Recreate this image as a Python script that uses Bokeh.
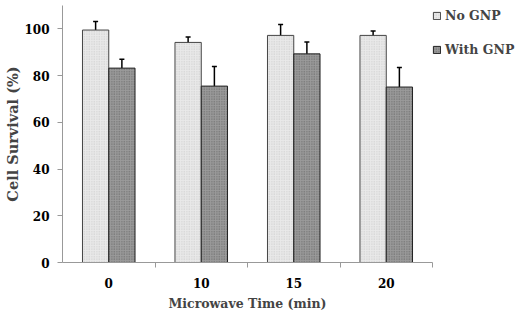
import numpy as np
from bokeh.plotting import figure
from bokeh.models import (ColumnDataSource, Range1d, FixedTicker, Whisker,
                          Legend, LegendItem)
from bokeh.embed import file_html
from bokeh.resources import INLINE

categories = ["0", "10", "15", "20"]
no_gnp = [99.5, 94.2, 97.2, 97.2]
no_gnp_err = [3.6, 2.3, 4.7, 1.9]
with_gnp = [83.2, 75.5, 89.3, 75.1]
with_gnp_err = [3.8, 8.4, 5.1, 8.4]
y_ticks = [0, 20, 40, 60, 80, 100]

FONT = "DejaVu Serif"
offset = 0.142
bar_w = 0.284

centers = np.arange(len(categories)) + 0.5
src_a = ColumnDataSource(dict(
    x=centers - offset, top=no_gnp,
    upper=np.array(no_gnp) + np.array(no_gnp_err),
    lower=np.array(no_gnp) - np.array(no_gnp_err)))
src_b = ColumnDataSource(dict(
    x=centers + offset, top=with_gnp,
    upper=np.array(with_gnp) + np.array(with_gnp_err),
    lower=np.array(with_gnp) - np.array(with_gnp_err)))

p = figure(frame_width=370, frame_height=257, output_backend="svg",
           toolbar_location=None,
           x_range=Range1d(0, len(categories)), y_range=Range1d(0, 110),
           min_border_left=62, min_border_bottom=52, min_border_top=5,
           min_border_right=0)
p.outline_line_color = None
p.grid.visible = False
p.background_fill_color = "white"
p.border_fill_color = "white"

ra = p.vbar(x="x", top="top", width=bar_w, source=src_a,
            fill_color="#e9e9e9", line_color="#444444", line_width=1,
            hatch_pattern=".", hatch_color="#c8c8c8", hatch_scale=2.5)
rb = p.vbar(x="x", top="top", width=bar_w, source=src_b,
            fill_color="#9a9a9a", line_color="#222222", line_width=1,
            hatch_pattern=".", hatch_color="#606060", hatch_scale=2.5)

for src in (src_a, src_b):
    w = Whisker(base="x", upper="upper", lower="lower", source=src,
                line_color="black", line_width=1.5)
    w.upper_head.size = 5
    w.lower_head.size = 5
    w.upper_head.line_width = 1.5
    w.lower_head.line_width = 1.5
    p.add_layout(w)

# x axis
xa = p.xaxis[0]
xa.ticker = FixedTicker(ticks=list(centers),
                        minor_ticks=list(np.arange(1, len(categories) + 1)))
xa.major_label_overrides = {float(c): lab for c, lab in zip(centers, categories)}
xa.major_tick_line_color = None
xa.major_tick_out = 0
xa.major_tick_in = 0
xa.minor_tick_line_color = "#999999"
xa.minor_tick_out = 5
xa.minor_tick_in = 0
xa.axis_line_color = "#999999"
xa.major_label_standoff = 10
xa.major_label_text_font = FONT
xa.major_label_text_font_style = "bold"
xa.major_label_text_font_size = "12px"
xa.major_label_text_color = "black"
xa.axis_label = "Microwave Time (min)"
xa.axis_label_text_font = FONT
xa.axis_label_text_font_style = "bold"
xa.axis_label_text_font_size = "12.5px"
xa.axis_label_standoff = 5

# y axis
ya = p.yaxis[0]
ya.ticker = FixedTicker(ticks=y_ticks, minor_ticks=[])
ya.axis_line_color = "#999999"
ya.major_tick_line_color = "#999999"
ya.major_tick_out = 5
ya.major_tick_in = 0
ya.minor_tick_line_color = None
ya.major_label_standoff = 8
ya.major_label_text_font = FONT
ya.major_label_text_font_style = "bold"
ya.major_label_text_font_size = "12px"
ya.major_label_text_color = "black"
ya.axis_label = "Cell Survival (%)"
ya.axis_label_text_font = FONT
ya.axis_label_text_font_style = "bold"
ya.axis_label_text_font_size = "14.5px"
ya.axis_label_standoff = 0

legend = Legend(items=[LegendItem(label="No GNP", renderers=[ra]),
                       LegendItem(label="With GNP", renderers=[rb])],
                location="top_left", margin=0, padding=2,
                border_line_color=None, background_fill_alpha=0,
                glyph_width=9, glyph_height=9, label_height=20,
                spacing=14, label_standoff=4,
                label_text_font=FONT, label_text_font_style="bold",
                label_text_font_size="12.5px")
p.add_layout(legend, "right")

open("out.html", "w").write(file_html(p, INLINE))
